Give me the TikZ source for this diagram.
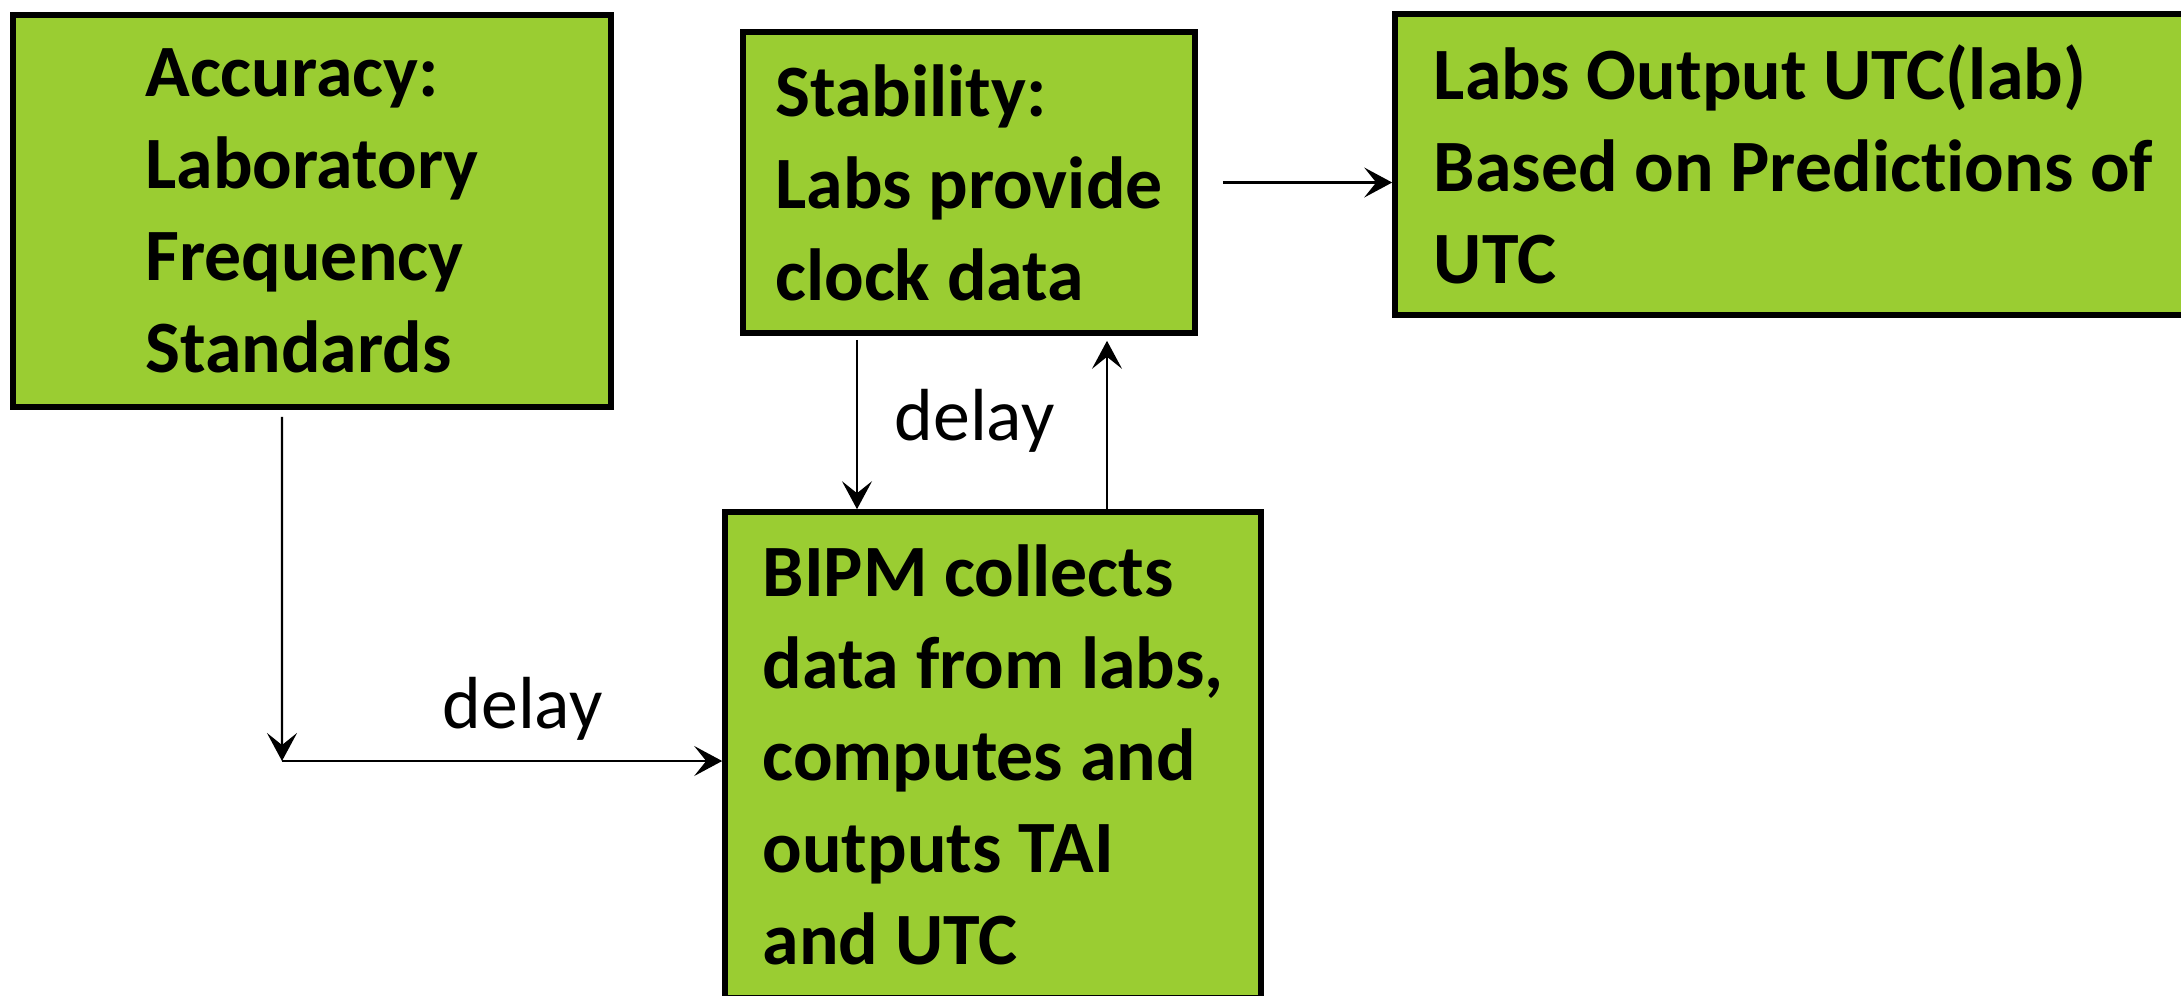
\documentclass[tikz,border=0pt]{standalone}
\usepackage{fontspec}
\setmainfont[Ligatures={NoCommon,NoRare,NoContextual},Contextuals=NoAlternate]{Carlito}
\usepackage{xcolor}
\usetikzlibrary{positioning,arrows.meta}

\definecolor{boxgreen}{RGB}{154,205,50}

\tikzset{
  box/.style={draw=black, line width=1.6pt, fill=boxgreen, align=left, inner sep=0pt,
    font=\bfseries\fontsize{21}{26.2}\selectfont},
  link/.style={line width=0.6pt, -{Stealth[length=2.8mm,width=3mm,inset=1.2mm]}},
  lbl/.style={font=\fontsize{21}{26.2}\selectfont, anchor=base, inner sep=0pt}
}

\begin{document}
\begin{tikzpicture}[x=1cm,y=1cm]
	\useasboundingbox (0,0) rectangle (21.81,-9.95);
	
	% the four boxes
	\node[box, minimum width=5.98cm, minimum height=3.92cm] (accuracy) at (3.12,-2.11)
		{Accuracy:\\Laboratory\\Frequency\\Standards};
	\node[box, minimum width=4.52cm, minimum height=3.01cm] (stability) at (9.69,-1.825)
		{Stability:\\Labs provide\\clock data};
	\node[box, minimum width=7.97cm, minimum height=3.01cm] (labsout) at (17.935,-1.645)
		{Labs Output UTC(lab)\\Based on Predictions of\\UTC};
	\node[box, minimum width=5.36cm, minimum height=4.86cm] (bipm) at (9.93,-7.55)
		{BIPM collects\\data from labs,\\computes and\\outputs TAI\\and UTC};
	
	\coordinate (corner) at (2.82,-7.61);
	
	% connectors
	\draw[link] ([xshift=0.25cm]stability.east) -- (labsout.west |- stability.east);
	\draw[link] ([xshift=-1.12cm,yshift=-0.04cm]stability.south) -- ([xshift=-1.12cm]stability.south |- bipm.north);
	\draw[link] ([xshift=1.38cm]stability.south |- bipm.north) -- ([xshift=1.38cm,yshift=-0.05cm]stability.south);
	\draw[link] ([xshift=-0.30cm,yshift=-0.07cm]accuracy.south) -- (corner);
	\draw[link] (corner) -- (corner -| bipm.west);
	
	\node[lbl] (delayA) at (9.745,-4.40) {delay};
	\node[lbl] (delayB) at (5.225,-7.28) {delay};
\end{tikzpicture}
\end{document}
